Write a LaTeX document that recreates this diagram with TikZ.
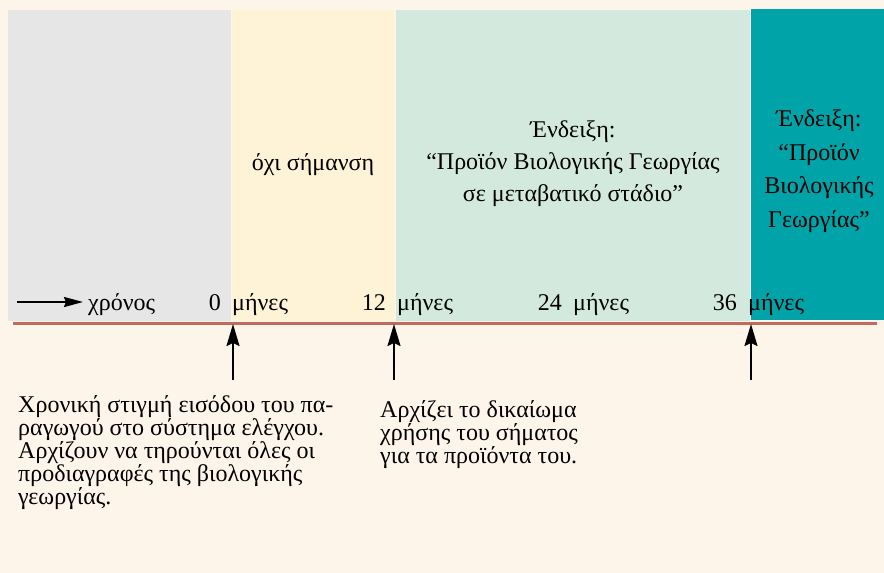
\documentclass[tikz,border=0pt]{standalone}
\usepackage{fontspec}
\setmainfont{Liberation Serif}
\usetikzlibrary{arrows.meta,positioning}

\definecolor{creme}{HTML}{FEF5EA}
\definecolor{grau}{HTML}{E6E6E6}
\definecolor{gelb}{HTML}{FEF3D6}
\definecolor{gruen}{HTML}{D4E9DE}
\definecolor{petrol}{HTML}{00A3A8}
\definecolor{zeitlinie}{HTML}{C4695E}

\begin{document}
\begin{tikzpicture}[x=1pt,y=-1pt]
	\useasboundingbox (0,0) rectangle (884,573);
	\fill[creme] (0,0) rectangle (884,573);

	% die vier Phasen
	\fill[grau] (8,10) rectangle (231,321);
	\fill[gelb] (232,10) rectangle (395,321);
	\fill[gruen] (396,10) rectangle (750,321);
	\fill[petrol] (751,9) rectangle (884,320);

	\coordinate (links) at (13,323);
	\coordinate (rechts) at (877,323);
	\draw[zeitlinie, line width=3pt] (links) -- (rechts);

	\begin{scope}[every node/.style={inner sep=0pt,font=\fontsize{24}{32}\selectfont}]
		\node[align=center] (keine) at (313,165) {όχι σήμανση};
		\node[align=center] (uebergang) at (573,164) {Ένδειξη:\\“Προϊόν Βιολογικής Γεωργίας\\σε μεταβατικό στάδιο”};
		\node[align=center,font=\fontsize{24}{33.5}\selectfont] (bio) at (819,171) {Ένδειξη:\\“Προϊόν\\Βιολογικής\\Γεωργίας”};

		\node[anchor=base west] (zeit) at (88,310) {χρόνος};
		\coordinate (zeitanfang) at (17,302);
		\coordinate (zeitende) at (83,302);
		\foreach \n/\p in {0/232,12/397,24/573,36/748} {
			\node[anchor=base west] (m\n) at (\p,310) {μήνες};
			\node[anchor=base east] (z\n) at ([xshift=-11pt]m\n.base west) {\n};
		}

		% base sitzt bei mehrzeiligen Knoten auf der letzten Zeile
		\node[anchor=base west,align=left,font=\fontsize{24}{23}\selectfont] (eintritt) at (18,504)
			{Χρονική στιγμή εισόδου του πα-\\ραγωγού στο σύστημα ελέγχου.\\Αρχίζουν να τηρούνται όλες οι\\προδιαγραφές της βιολογικής\\γεωργίας.};
		\node[anchor=base west,align=left,font=\fontsize{24}{23}\selectfont] (recht) at (380,463)
			{Αρχίζει το δικαίωμα\\χρήσης του σήματος\\για τα προϊόντα του.};
	\end{scope}

	\begin{scope}[>={Stealth[black,length=22pt,width=13pt,inset=3pt]}, line width=1.8pt]
		\foreach \x/\name in {233/a,394/b,751/c} {
			\coordinate (fuss\name) at (\x,380);
			\coordinate (spitze\name) at (\x,324);
			\path[->] (fuss\name) edge (spitze\name);
		}
		\path[->, >={Stealth[black,length=19pt,width=10pt,inset=2pt]}, line width=2.2pt] (zeitanfang) edge (zeitende);
	\end{scope}
\end{tikzpicture}
\end{document}
